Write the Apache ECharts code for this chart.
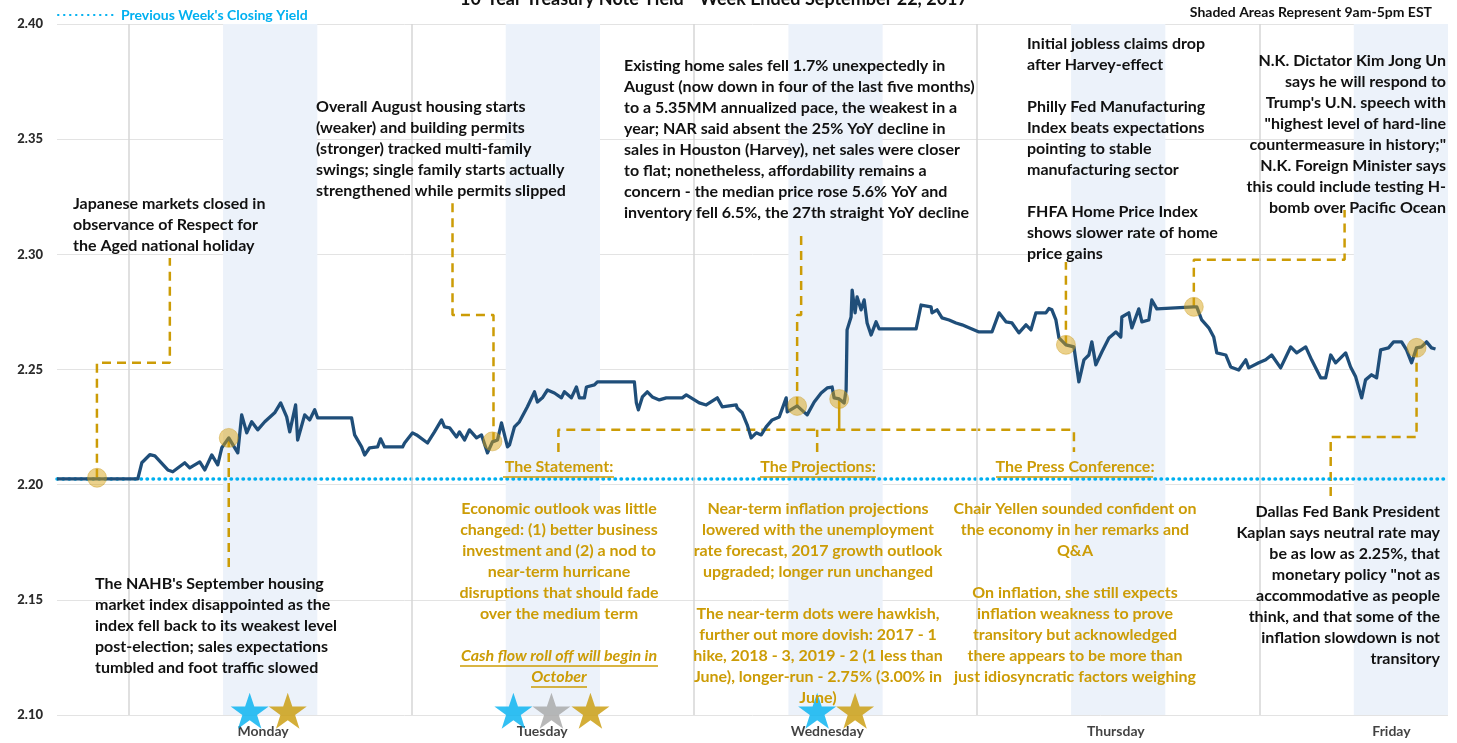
<!DOCTYPE html>
<html>
<head>
<meta charset="utf-8">
<script src="https://cdn.jsdelivr.net/npm/echarts@6/dist/echarts.min.js"></script>
<style>
  html, body { margin: 0; padding: 0; background: #fff; }
  #chart { width: 1457px; height: 743px; }
</style>
</head>
<body>
<div id="chart"></div>
<script>
// hours since Monday's day boundary, 10y yield (%)
const yieldHours = [
  -6.1, 0.76, 1.10, 1.78, 2.21, 3.31, 3.73, 4.75, 5.17, 6.02, 6.45, 7.04, 7.55, 7.89, 8.48,
  9.25, 9.58, 10.01, 10.43, 10.94, 11.54, 12.38, 12.89, 13.40, 13.66, 14.16, 14.33, 14.93, 15.35, 15.78,
  16.03, 18.91, 19.17, 19.76, 20.02, 20.44, 21.12, 21.37, 21.71, 23.24, 23.41, 24.09, 24.43, 25.36, 25.95,
  26.55, 26.80, 27.23, 27.82, 28.07, 28.50, 28.92, 29.52, 29.94, 30.45, 30.87, 31.30, 31.64, 32.15, 32.32,
  32.74, 33.16, 33.84, 34.44, 34.69, 35.11, 35.54, 36.13, 36.73, 36.98, 37.57, 38.00, 38.25, 38.68, 38.85,
  39.53, 39.78, 42.92, 43.09, 43.26, 43.60, 44.02, 44.44, 45.04, 45.63, 46.99, 47.33, 48.43, 49.02, 49.96,
  50.38, 51.57, 51.65, 52.08, 52.50, 52.84, 53.27, 53.69, 54.11, 54.62, 55.22, 55.81, 55.90, 56.74, 57.59,
  58.19, 58.78, 59.29, 59.71, 59.88, 60.31, 60.73, 60.90, 60.98, 61.32, 61.41, 61.66, 61.83, 62.17, 62.43,
  62.68, 63.02, 63.44, 63.70, 66.84, 67.26, 68.11, 68.19, 68.62, 69.04, 69.64, 70.23, 70.74, 71.33, 72.18,
  73.28, 73.88, 74.47, 74.98, 75.57, 76.17, 76.59, 77.01, 77.86, 78.12, 78.37, 78.71, 78.97, 79.56, 80.24,
  80.66, 81.09, 81.51, 81.76, 82.10, 82.61, 83.21, 83.80, 84.22, 84.31, 84.90, 85.16, 85.75, 86.01, 86.60,
  86.85, 87.28, 90.42, 90.67, 91.09, 91.69, 92.11, 92.37, 93.13, 93.55, 94.23, 94.83, 95.08, 95.93, 96.52,
  97.03, 97.79, 98.64, 99.15, 99.92, 100.42, 101.19, 101.61, 102.04, 102.46, 103.31, 103.73, 104.16, 104.67, 105.00,
  105.51, 105.94, 106.28, 106.95, 107.38, 108.06, 108.48, 108.91, 109.33, 109.75, 110.18, 110.60, 110.94
];
const yieldValues = [
  2.2025, 2.2025, 2.2095, 2.2130, 2.2125, 2.2064, 2.2056, 2.2095, 2.2073, 2.2099, 2.2064, 2.2129, 2.2086, 2.2160, 2.2203,
  2.2138, 2.2303, 2.2225, 2.2273, 2.2238, 2.2273, 2.2312, 2.2355, 2.2294, 2.2229, 2.2346, 2.2194, 2.2303, 2.2281, 2.2325,
  2.2290, 2.2290, 2.2216, 2.2164, 2.2129, 2.2160, 2.2164, 2.2199, 2.2164, 2.2164, 2.2181, 2.2225, 2.2216, 2.2181, 2.2229,
  2.2281, 2.2251, 2.2247, 2.2207, 2.2229, 2.2194, 2.2238, 2.2203, 2.2216, 2.2138, 2.2186, 2.2194, 2.2268, 2.2164, 2.2173,
  2.2251, 2.2273, 2.2338, 2.2403, 2.2359, 2.2377, 2.2411, 2.2398, 2.2377, 2.2403, 2.2377, 2.2424, 2.2377, 2.2377, 2.2424,
  2.2433, 2.2446, 2.2446, 2.2355, 2.2325, 2.2381, 2.2403, 2.2381, 2.2368, 2.2377, 2.2377, 2.2390, 2.2355, 2.2346, 2.2377,
  2.2338, 2.2346, 2.2333, 2.2312, 2.2260, 2.2203, 2.2225, 2.2216, 2.2251, 2.2281, 2.2294, 2.2377, 2.2316, 2.2342, 2.2303,
  2.2359, 2.2398, 2.2420, 2.2424, 2.2377, 2.2372, 2.2355, 2.2411, 2.2672, 2.2728, 2.2845, 2.2746, 2.2815, 2.2759, 2.2802,
  2.2702, 2.2650, 2.2707, 2.2676, 2.2676, 2.2780, 2.2772, 2.2746, 2.2759, 2.2724, 2.2715, 2.2702, 2.2694, 2.2681, 2.2663,
  2.2663, 2.2746, 2.2707, 2.2702, 2.2659, 2.2694, 2.2672, 2.2746, 2.2746, 2.2765, 2.2759, 2.2715, 2.2637, 2.2607, 2.2598,
  2.2446, 2.2542, 2.2563, 2.2620, 2.2520, 2.2576, 2.2637, 2.2663, 2.2641, 2.2728, 2.2746, 2.2681, 2.2763, 2.2707, 2.2715,
  2.2802, 2.2763, 2.2772, 2.2772, 2.2715, 2.2681, 2.2641, 2.2572, 2.2563, 2.2511, 2.2498, 2.2542, 2.2507, 2.2529, 2.2542,
  2.2563, 2.2507, 2.2598, 2.2572, 2.2598, 2.2542, 2.2464, 2.2464, 2.2563, 2.2529, 2.2572, 2.2511, 2.2468, 2.2377, 2.2455,
  2.2477, 2.2464, 2.2585, 2.2594, 2.2620, 2.2620, 2.2585, 2.2529, 2.2594, 2.2598, 2.2620, 2.2594, 2.2589
];

const prevClose = 2.2025;
const dayNames = ['Monday', 'Tuesday', 'Wednesday', 'Thursday', 'Friday'];
const dayLabelHours = [11.4, 35.1, 59.3, 83.8, 107.2];
const daySeparators = [0, 24, 48, 72, 96];
const shadedHours = [[8, 16], [32, 40], [56, 64], [80, 88], [104, 112]];
const yTicks = [2.10, 2.15, 2.20, 2.25, 2.30, 2.35, 2.40];

// event markers on the yield line
const eventHours = [-2.7, 8.48, 30.87, 56.74, 60.31, 79.56, 90.42, 109.33];
const eventValues = [2.2030, 2.2203, 2.2188, 2.2342, 2.2372, 2.2607, 2.2772, 2.2594];

// FOMC stars
const starLevel = 2.1018;
const blueStarHours = [10.26, 32.65, 58.44];
const grayStarHours = [35.88];
const goldStarHours = [13.49, 39.19, 61.66];

// dashed callouts [hour, yield]
const callouts = [
  [[-2.71, 2.2030], [-2.71, 2.2529], [3.48, 2.2529], [3.48, 2.2984]],
  [[8.48, 2.2203], [8.48, 2.1622]],
  [[30.96, 2.2188], [30.96, 2.2737], [27.48, 2.2737], [27.48, 2.3245]],
  [[56.74, 2.2342], [56.74, 2.2737], [57.08, 2.2737], [57.08, 2.3093]],
  [[36.47, 2.2142], [36.47, 2.2238], [80.24, 2.2238], [80.24, 2.2142]],
  [[58.44, 2.2142], [58.44, 2.2238]],
  [[79.56, 2.2607], [79.56, 2.2967]],
  [[90.42, 2.2772], [90.42, 2.2976], [103.22, 2.2976], [103.22, 2.3193]],
  [[109.33, 2.2594], [109.33, 2.2207], [102.04, 2.2207], [102.04, 2.1947]]
];
const projectionStem = [[60.31, 2.2372], [60.31, 2.2238]];

const FONT = 'Lato, "Noto Sans", sans-serif';
const GOLD = '#CC9C06';
const CYAN = '#00B0F0';

const starPath = 'path://M50,0 L61.8,35.3 L99,35.3 L69,57.1 L80.3,92.7 L50,70.6 L19.7,92.7 L31,57.1 L1,35.3 L38.2,35.3 Z';

const chart = echarts.init(document.getElementById('chart'));

const calloutSeries = callouts.map(path => ({
  type: 'line',
  data: path,
  symbol: 'none',
  silent: true,
  z: 3,
  lineStyle: { color: GOLD, width: 2.5, type: [9, 6] }
}));

function textBlock(text, x, y, align, color, italic) {
  return {
    type: 'text',
    z: 50,
    style: {
      text: text,
      x: x,
      y: y,
      textAlign: align,
      textVerticalAlign: 'top',
      fill: color,
      lineHeight: 21,
      font: (italic ? 'italic ' : '') + 'bold 16px ' + FONT
    }
  };
}
function underline(x1, x2, y, color) {
  return {
    type: 'line', z: 50,
    shape: { x1: x1, y1: y, x2: x2, y2: y },
    style: { stroke: color, lineWidth: 1.5 }
  };
}

const option = {
  animation: false,
  textStyle: { fontFamily: FONT },
  grid: { left: 57, right: 9, top: 24, bottom: 28 },
  legend: {
    data: ["Previous Week's Closing Yield"],
    left: 52, top: 3,
    itemWidth: 58, itemHeight: 10,
    itemStyle: { color: 'rgba(0,0,0,0)', borderWidth: 0 },
    textStyle: { color: CYAN, fontWeight: 'bold', fontSize: 14, fontFamily: FONT }
  },
  xAxis: {
    type: 'value',
    min: -6.1, max: 112,
    axisLabel: { show: false },
    axisTick: { show: false },
    axisLine: { show: false },
    splitLine: { show: false }
  },
  yAxis: {
    type: 'value',
    min: yTicks[0], max: yTicks[yTicks.length - 1], interval: 0.05,
    axisLabel: {
      formatter: v => v.toFixed(2),
      color: '#2b2b2b', fontWeight: 900, fontSize: 13, margin: 14, fontFamily: FONT
    },
    axisTick: { show: false },
    axisLine: { show: false },
    splitLine: { lineStyle: { color: '#E3E3E3', width: 1 } }
  },
  graphic: [
    {
      type: 'text', z: 50,
      style: {
        text: '10-Year Treasury Note Yield - Week Ended September 22, 2017',
        x: 714, y: -1, textAlign: 'center', textVerticalAlign: 'middle',
        fill: '#111', font: 'bold 18px ' + FONT
      }
    },
    {
      type: 'text', z: 50,
      style: {
        text: 'Shaded Areas Represent 9am-5pm EST',
        x: 1432, y: 12, textAlign: 'right', textVerticalAlign: 'middle',
        fill: '#111', font: 'bold 14px ' + FONT
      }
    },
    textBlock('Japanese markets closed in\nobservance of Respect for\nthe Aged national holiday', 73, 193.5, 'left', '#111'),
    textBlock('Overall August housing starts\n(weaker) and building permits\n(stronger) tracked multi-family\nswings; single family starts actually\nstrengthened while permits slipped', 316, 96.5, 'left', '#111'),
    textBlock('Existing home sales fell 1.7% unexpectedly in\nAugust (now down in four of the last five months)\nto a 5.35MM annualized pace, the weakest in a\nyear; NAR said absent the 25% YoY decline in\nsales in Houston (Harvey), net sales were closer\nto flat; nonetheless, affordability remains a\nconcern - the median price rose 5.6% YoY and\ninventory fell 6.5%, the 27th straight YoY decline', 624, 55.5, 'left', '#111'),
    textBlock('Initial jobless claims drop\nafter Harvey-effect\n\nPhilly Fed Manufacturing\nIndex beats expectations\npointing to stable\nmanufacturing sector\n\nFHFA Home Price Index\nshows slower rate of home\nprice gains', 1027, 33.5, 'left', '#111'),
    textBlock('N.K. Dictator Kim Jong Un\nsays he will respond to\nTrump\'s U.N. speech with\n"highest level of hard-line\ncountermeasure in history;"\nN.K. Foreign Minister says\nthis could include testing H-\nbomb over Pacific Ocean', 1446, 50.5, 'right', '#111'),
    textBlock('The NAHB\'s September housing\nmarket index disappointed as the\nindex fell back to its weakest level\npost-election; sales expectations\ntumbled and foot traffic slowed', 95, 573.5, 'left', '#111'),
    textBlock('Dallas Fed Bank President\nKaplan says neutral rate may\nbe as low as 2.25%, that\nmonetary policy "not as\naccommodative as people\nthink, and that some of the\ninflation slowdown is not\ntransitory', 1440, 501.5, 'right', '#111'),
    textBlock('The Statement:', 559, 456.5, 'center', GOLD),
    textBlock('Economic outlook was little\nchanged: (1) better business\ninvestment and (2) a nod to\nnear-term hurricane\ndisruptions that should fade\nover the medium term', 559, 498.5, 'center', GOLD),
    textBlock('Cash flow roll off will begin in\nOctober', 559, 645.5, 'center', GOLD, true),
    textBlock('The Projections:', 818, 456.5, 'center', GOLD),
    textBlock('Near-term inflation projections\nlowered with the unemployment\nrate forecast, 2017 growth outlook\nupgraded; longer run unchanged\n\nThe near-term dots were hawkish,\nfurther out more dovish: 2017 - 1\nhike, 2018 - 3, 2019 - 2 (1 less than\nJune), longer-run - 2.75% (3.00% in\nJune)', 818, 498.5, 'center', GOLD),
    textBlock('The Press Conference:', 1075, 456.5, 'center', GOLD),
    textBlock('Chair Yellen sounded confident on\nthe economy in her remarks and\nQ&A\n\nOn inflation, she still expects\ninflation weakness to prove\ntransitory but acknowledged\nthere appears to be more than\njust idiosyncratic factors weighing', 1075, 498.5, 'center', GOLD),
    underline(503, 614, 477, GOLD),
    underline(760, 876, 477, GOLD),
    underline(996, 1153, 477, GOLD),
    underline(460, 658, 666, GOLD),
    underline(531, 587, 687, GOLD)
  ],
  series: [
    {
      type: 'line',
      name: 'shading',
      data: [],
      silent: true,
      z: 0,
      markArea: {
        silent: true,
        itemStyle: { color: '#ECF2FA' },
        data: shadedHours.map(r => [{ xAxis: r[0] }, { xAxis: r[1] }])
      },
      markLine: {
        silent: true,
        symbol: 'none',
        label: { show: false },
        lineStyle: { color: '#D6D6D6', width: 1.5, type: 'solid' },
        data: daySeparators.map(h => ({ xAxis: h }))
      }
    },
    {
      type: 'line',
      name: "Previous Week's Closing Yield",
      data: [[-6.1, prevClose], [112, prevClose]],
      symbol: 'none',
      z: 4,
      lineStyle: { color: CYAN, width: 3.5, type: [0.5, 5.5], cap: 'round' }
    },
    ...calloutSeries,
    {
      type: 'line',
      data: projectionStem,
      symbol: 'none',
      silent: true,
      z: 3,
      lineStyle: { color: GOLD, width: 2.5 }
    },
    {
      type: 'line',
      name: '10-Year Yield',
      data: yieldHours.map((h, i) => [h, yieldValues[i]]),
      symbol: 'none',
      z: 5,
      lineStyle: { color: '#1F4E79', width: 3.3, join: 'round' }
    },
    {
      type: 'scatter',
      data: eventHours.map((h, i) => [h, eventValues[i]]),
      symbolSize: 19,
      z: 6,
      itemStyle: { color: 'rgba(214,162,20,0.62)', borderColor: 'rgba(200,150,20,0.5)', borderWidth: 1 }
    },
    {
      type: 'scatter',
      data: blueStarHours.map(h => [h, starLevel]),
      symbol: starPath, symbolSize: [38, 36], z: 6,
      itemStyle: { color: CYAN }
    },
    {
      type: 'scatter',
      data: grayStarHours.map(h => [h, starLevel]),
      symbol: starPath, symbolSize: [38, 36], z: 6,
      itemStyle: { color: '#A6A6A6' }
    },
    {
      type: 'scatter',
      data: goldStarHours.map(h => [h, starLevel]),
      symbol: starPath, symbolSize: [38, 36], z: 6,
      itemStyle: { color: '#C99A06' }
    },
    {
      type: 'scatter',
      data: dayLabelHours.map((h, i) => ({ value: [h, yTicks[0]], name: dayNames[i] })),
      symbolSize: 0,
      silent: true,
      label: {
        show: true, position: 'bottom', distance: 9,
        formatter: p => p.name,
        color: '#111', fontWeight: 'bold', fontSize: 14, fontFamily: FONT
      }
    }
  ]
};

chart.setOption(option);
</script>
</body>
</html>
